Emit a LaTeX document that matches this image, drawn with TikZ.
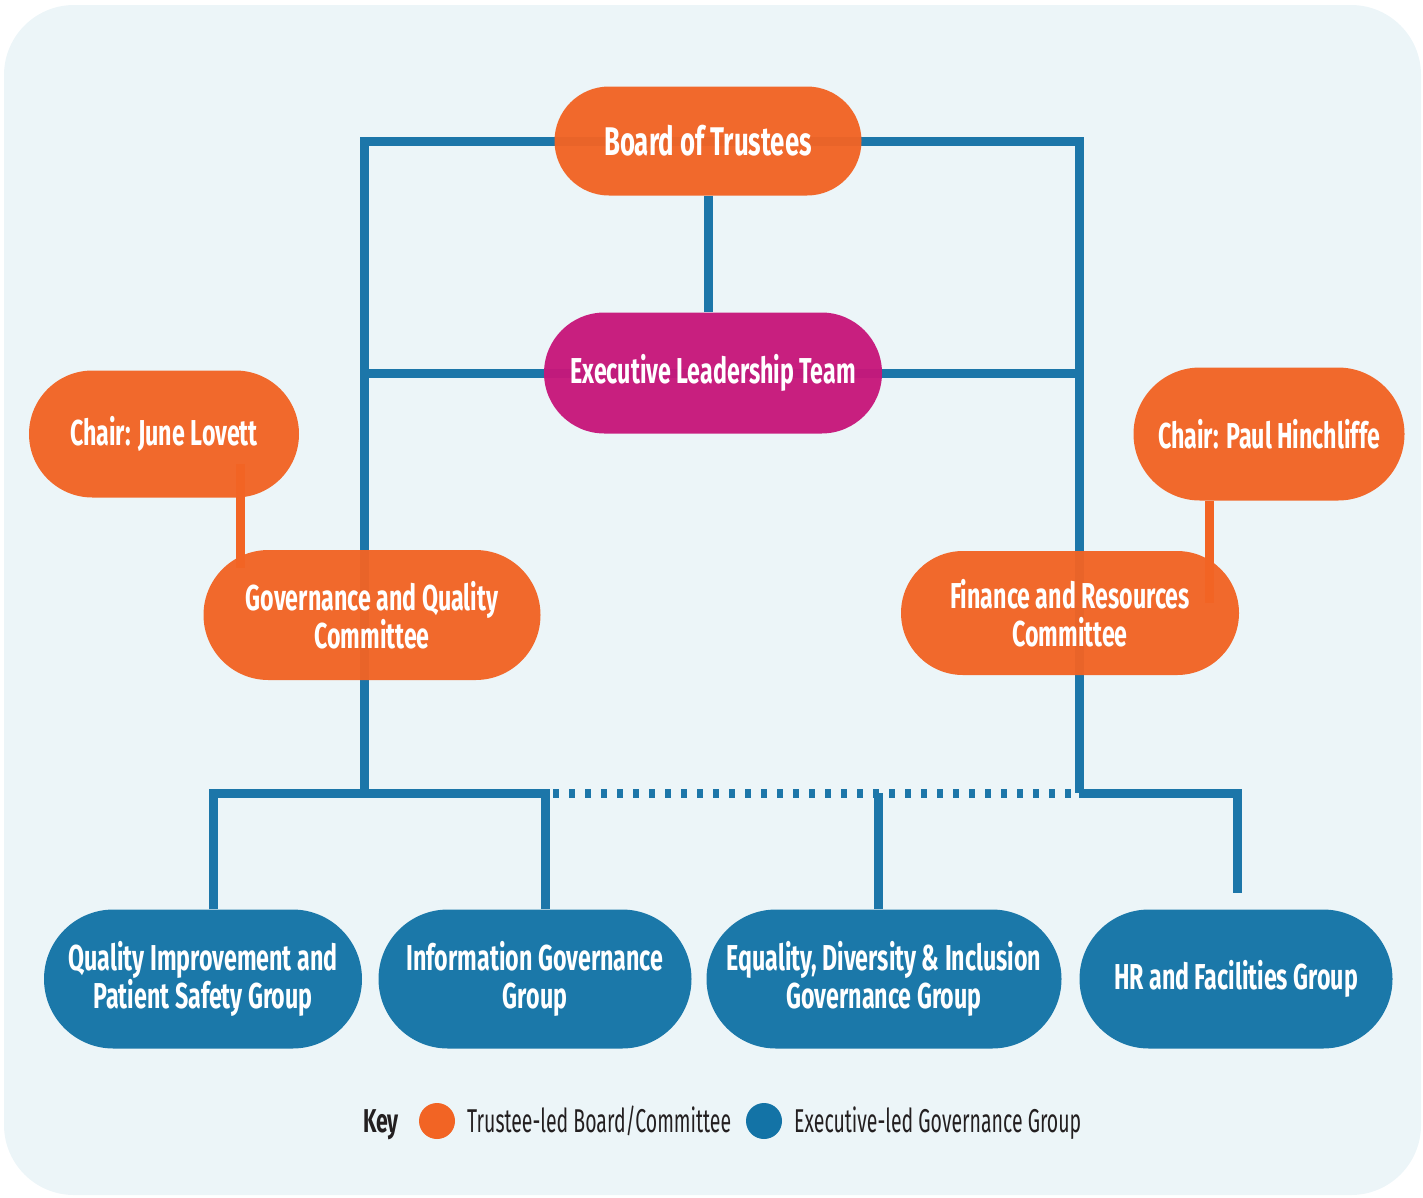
\documentclass[tikz,border=0pt]{standalone}
\usepackage{fontspec}
\newfontfamily\narrowfont[FakeStretch=0.645]{Fira Sans}
\newfontfamily\keyfont[FakeStretch=0.59]{Fira Sans}
\usetikzlibrary{shapes.misc,backgrounds}
\definecolor{trusteeorange}{HTML}{F26424}
\definecolor{leadmagenta}{HTML}{C7177B}
\definecolor{groupblue}{HTML}{1373A6}
\definecolor{wireblue}{HTML}{1C76A9}
\definecolor{panelblue}{HTML}{ECF5F8}
\definecolor{keygray}{HTML}{231F20}

\begin{document}
\begin{tikzpicture}[x=1pt, y=-1pt,
  pill/.style={rounded rectangle, fill opacity=0.96, text opacity=1, text=white,
    inner sep=0pt, align=center, font=\narrowfont\bfseries\fontsize{36}{38}\selectfont},
  board/.style={pill, fill=trusteeorange},
  lead/.style={pill, fill=leadmagenta},
  group/.style={pill, fill=groupblue, minimum height=139},
  link/.style={draw=wireblue, line width=9pt},
  tie/.style={draw=trusteeorange, line width=9pt},
  keydot/.style={circle, minimum size=36, inner sep=0pt},
  keylabel/.style={anchor=base west, inner sep=0pt, text=keygray, font=\keyfont\fontsize{33}{36}\selectfont}]
\useasboundingbox (0,0) rectangle (1423,1197);

% trustee board and committees
\node[board, minimum width=307, minimum height=109, font=\narrowfont\bfseries\fontsize{40}{42}\selectfont] (bot) at (708,141) {Board of Trustees};
\node[lead, minimum width=338, minimum height=121] (elt) at (713,373) {Executive Leadership Team};
\node[board, minimum width=270, minimum height=127] (ch1) at (164,434) {Chair: June Lovett};
\node[board, minimum width=271, minimum height=133] (ch2) at (1269,434) {Chair: Paul Hinchliffe};
\node[board, minimum width=337, minimum height=130] (gqc) at (372,615) {Governance and Quality\\Committee};
\node[board, minimum width=338, minimum height=124] (frc) at (1070,613) {Finance and Resources\\Committee};

% executive-led groups
\foreach \n/\x/\w/\t in {qi/203/318/{Quality Improvement and\\Patient Safety Group},
                         ig/535/313/{Information Governance\\Group},
                         edi/884/355/{Equality, Diversity \& Inclusion\\Governance Group},
                         hr/1236/313/{HR and Facilities Group}} {
    \node[group, minimum width=\w] (\n) at (\x,979) {\t};
}

\coordinate (ls) at ([xshift=-8]gqc.center);
\coordinate (rs) at ([xshift=9]frc.center);
\coordinate (bus) at (0,793);
\coordinate (qitop) at ([xshift=10]qi.north |- bus);
\coordinate (igtop) at ([xshift=10]ig.north |- bus);
\coordinate (editop) at ([xshift=-6]edi.north |- bus);
\coordinate (hrtop) at ([xshift=1]hr.north |- bus);

\begin{scope}[on background layer]
\fill[panelblue, rounded corners=70pt] (4,5) rectangle (1421,1195);
\draw[link] (ls |- bus) |- (bot.center) -| (rs |- bus);
\draw[link] (bot.south) -- (bot.south |- elt.north);
\draw[link] (elt.center) -- (elt.center -| ls);
\draw[link] (elt.center) -- (elt.center -| rs);
\draw[link] (qitop |- qi.north) -- (qitop) -- (igtop) -- (igtop |- ig.north);
\draw[link, dash pattern=on 5.5pt off 10.5pt] ([xshift=8pt]igtop) -- (rs |- bus);
\draw[link] (editop) -- (editop |- edi.north);
\draw[link] (rs |- bus) -- (hrtop) -- ([yshift=16pt]hrtop |- hr.north);
\draw[tie] ([xshift=76pt,yshift=34pt]ch1.south) -- ([xshift=-132pt,yshift=-18pt]gqc.north);
\draw[tie] ([xshift=-60pt]ch2.south) -- ([xshift=139pt,yshift=-52pt]frc.north);
\end{scope}

% key
\node[keylabel, font=\narrowfont\bfseries\fontsize{33}{36}\selectfont] (key) at (363,1132) {Key};
\node[keydot, fill=trusteeorange] (kt) at (437,1121) {};
\node[keylabel] (ktl) at (467,1132) {Trustee-led Board/Committee};
\node[keydot, fill=groupblue] (ke) at (764,1121) {};
\node[keylabel] (kel) at (794,1132) {Executive-led Governance Group};
\end{tikzpicture}
\end{document}
